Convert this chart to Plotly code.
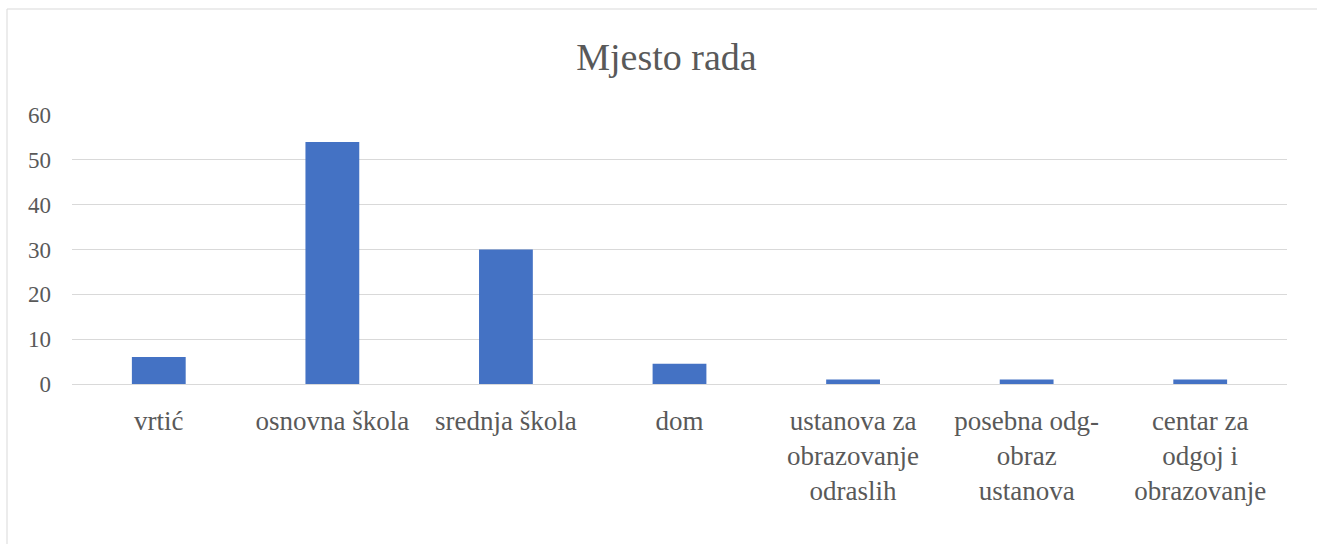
import plotly.graph_objects as go

categories = ["vrtić", "osnovna škola", "srednja škola", "dom",
              "ustanova za<br>obrazovanje<br>odraslih",
              "posebna odg-<br>obraz<br>ustanova",
              "centar za<br>odgoj i<br>obrazovanje"]
values = [6, 54, 30, 4.5, 1, 1, 1]
y_ticks = [0, 10, 20, 30, 40, 50, 60]

W, H = 1317, 544
L, R, T, B = 72, 30, 115, 160

fig = go.Figure(go.Bar(x=categories, y=values, marker_color="#4472C4",
                       marker_line_width=0, hoverinfo="skip"))

pw = W - L - R
ph = H - T - B
def px_x(p):
    return (p - L) / pw
def px_y(p):
    return (H - B - p) / ph

fig.add_shape(type="rect", xref="paper", yref="paper",
              x0=px_x(7), x1=px_x(1330), y0=px_y(9), y1=px_y(560),
              line=dict(color="#d9d9d9", width=1), fillcolor="rgba(0,0,0,0)")

fig.update_layout(
    width=W, height=H,
    margin=dict(l=L, r=R, t=T, b=B),
    paper_bgcolor="white", plot_bgcolor="white",
    bargap=0.69,
    showlegend=False,
    title=dict(text="Mjesto rada", x=0.506, xanchor="center", y=1 - 57 / H, yanchor="middle",
               font=dict(family="Liberation Serif", size=38, color="#595959")),
    font=dict(family="Liberation Serif", color="#595959"),
    xaxis=dict(showgrid=False, showline=False, ticks="", tickangle=0,
               ticklabelstandoff=18,
               tickfont=dict(size=27, color="#595959")),
    yaxis=dict(range=[0, 60], tickvals=y_ticks, showgrid=True, gridcolor="#d9d9d9",
               gridwidth=1, zeroline=True, zerolinecolor="#d9d9d9", zerolinewidth=1,
               showline=False, ticks="", ticklabelstandoff=20,
               tickfont=dict(size=23, color="#595959")),
)

fig.write_html("out.html", config={"displayModeBar": False},
               post_script="document.body.style.margin='0';")
